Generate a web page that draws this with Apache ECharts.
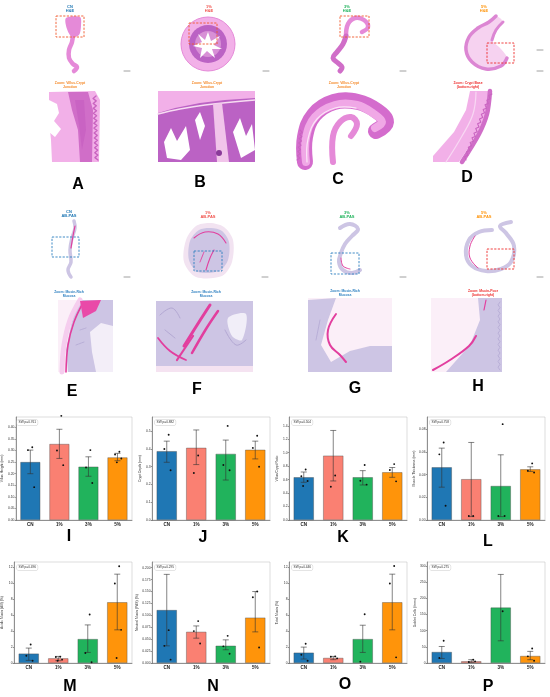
<!DOCTYPE html>
<html>
<head>
<meta charset="utf-8">
<script src="https://cdn.jsdelivr.net/npm/echarts@6/dist/echarts.min.js"></script>
<style>
html, body { margin: 0; padding: 0; background: #fff; }
#container { width: 550px; height: 697px; }
</style>
</head>
<body>
<div id="container"></div>
<script>
// groups and bar data
var groups = ['CN', '1%', '3%', '5%'];

var villusMean = [0.250, 0.328, 0.230, 0.270];
var villusErr = [[0.200, 0.302], [0.266, 0.392], [0.189, 0.273], [0.256, 0.288]];
var villusPts = [[0.314, 0.302, 0.142], [0.450, 0.300, 0.237], [0.302, 0.227, 0.160], [0.295, 0.283, 0.266, 0.249]];

var cryptMean = [0.387, 0.406, 0.372, 0.395];
var cryptErr = [[0.325, 0.444], [0.312, 0.507], [0.225, 0.450], [0.344, 0.444]];
var cryptPts = [[0.480, 0.400, 0.280], [0.363, 0.265], [0.530, 0.310, 0.280], [0.474, 0.406, 0.300]];

var ratioMean = [0.634, 0.955, 0.634, 0.708];
var ratioErr = [[0.560, 0.713], [0.580, 1.330], [0.520, 0.733], [0.634, 0.780]];
var ratioPts = [[0.750, 0.650, 0.580, 0.505], [0.660, 0.495], [0.817, 0.584, 0.525], [0.830, 0.743, 0.574]];

var muscleMean = [0.0465, 0.0360, 0.0300, 0.0447];
var muscleErr = [[0.0290, 0.0635], [0.0030, 0.0685], [0.0030, 0.0576], [0.0429, 0.0470]];
var musclePts = [[0.0685, 0.0580, 0.0126], [0.0035, 0.0035], [0.0847, 0.0035, 0.0035], [0.0500, 0.0435, 0.0420]];

var acidMean = [1.17, 0.58, 3.00, 7.63];
var acidErr = [[0.33, 1.875], [0.29, 0.83], [1.33, 4.79], [4.17, 11.17]];
var acidPts = [[2.33, 0.92, 0.29], [0.79, 0.75, 0.42, 0.29], [6.10, 1.25, 0.10], [12.17, 10.00, 4.17, 0.63]];

var neutralMean = [0.111, 0.0653, 0.0361, 0.0951];
var neutralErr = [[0.036, 0.186], [0.0521, 0.0778], [0.0278, 0.0486], [0.0653, 0.150]];
var neutralPts = [[0.069, 0.036, 0.007], [0.088, 0.067, 0.041], [0.057, 0.035, 0.0194], [0.150, 0.138, 0.0326]];

var totalMean = [1.29, 0.63, 3.00, 7.63];
var totalErr = [[0.50, 2.00], [0.42, 0.83], [1.33, 4.75], [4.17, 11.17]];
var totalPts = [[2.42, 1.04, 0.29], [0.83, 0.79, 0.58], [6.13, 0.17], [12.20, 10.00, 0.71]];

var gobletMean = [33.8, 5.1, 171, 21.5];
var gobletErr = [[14, 51], [2, 10.2], [68.6, 273.6], [10.2, 35.9]];
var gobletPts = [[68.6, 15.4], [10.2, 3.0, 5.0], [160], [45, 20.5, 7]];

var panelNames = ['Villus Height (mm)', 'Crypt Depth (mm)', 'Villus/Crypt Ratio', 'Muscle Thickness (mm)',
	'Acidic Mucin (AB) (%)', 'Neutral Mucin (PAS) (%)', 'Total Mucin (%)', 'Goblet Cells (/mm²)'];
var swLabels = ['SW p=0.761', 'SW p=0.882', 'SW p=0.504', 'SW p=0.758', 'SW p=0.496', 'SW p=0.295', 'SW p=0.446', 'SW p=0.275'];
var yMaxes = [0.445, 0.58, 1.53, 0.091, 12.7, 0.212, 12.7, 312];
var yIntervals = [0.05, 0.1, 0.2, 0.02, 2, 0.025, 2, 50];
var yDecimals = [2, 1, 1, 2, 0, 3, 0, 0];
var barLetters = ['I', 'J', 'K', 'L', 'M', 'N', 'O', 'P'];

var means = [villusMean, cryptMean, ratioMean, muscleMean, acidMean, neutralMean, totalMean, gobletMean];
var errs = [villusErr, cryptErr, ratioErr, muscleErr, acidErr, neutralErr, totalErr, gobletErr];
var pts = [villusPts, cryptPts, ratioPts, musclePts, acidPts, neutralPts, totalPts, gobletPts];

var groupColors = ['#1f77b4', '#fa8072', '#21b35c', '#ff940a'];
var font = 'Liberation Sans, Arial, sans-serif';

// ---------- drawing helpers for the histology panels ----------
function poly(points, fill, smooth) {
	return { type: 'polygon', silent: true, shape: { points: points, smooth: smooth || 0 }, style: { fill: fill } };
}
function line(points, color, width, smooth) {
	return { type: 'polyline', silent: true, shape: { points: points, smooth: smooth === undefined ? 0.4 : smooth },
		style: { stroke: color, lineWidth: width, fill: null, lineCap: 'round', lineJoin: 'round' } };
}
function rect(x, y, w, h, fill) {
	return { type: 'rect', silent: true, shape: { x: x, y: y, width: w, height: h }, style: { fill: fill } };
}
function box(x, y, w, h, color) {
	return { type: 'rect', silent: true, shape: { x: x, y: y, width: w, height: h },
		style: { fill: null, stroke: color, lineWidth: 0.9, lineDash: [2.2, 1.4] } };
}
function txt(x, y, text, color, size, weight) {
	return { type: 'text', silent: true, z: 20, style: { x: x, y: y, text: text, fill: color, fontSize: size,
		fontWeight: weight || 'bold', fontFamily: font, align: 'center', verticalAlign: 'middle', lineHeight: size * 1.1 } };
}
function fringe(x0, y0, x1, y1, amp, n) {
	var out = [];
	var dx = x1 - x0, dy = y1 - y0, len = Math.sqrt(dx * dx + dy * dy);
	var nx = -dy / len, ny = dx / len;
	for (var i = 0; i <= n; i++) {
		var t = i / n, o = (i % 2) ? amp : 0;
		out.push([x0 + dx * t + nx * o, y0 + dy * t + ny * o]);
	}
	return out;
}
function scaleBar(x, y) {
	return line([[x - 3, y], [x + 3, y]], '#888', 0.8, 0);
}

var pinkLight = '#f2b0e8', pink = '#e58ad8', pinkDark = '#d06ec8', purple = '#bb62c4';
var lav = '#cdc5e4', lavDark = '#b3a8d3', mag = '#e23e9e', palePink = '#fbeff8';
var cnBlue = '#1f77b4', redLbl = '#f0504a', greenLbl = '#21b35c', orangeLbl = '#ff940a';
var zoomOrange = '#f58a2a', zoomRed = '#ee2d2d', zoomBlue = '#2c7fc0';

var gfx = [];

// --- row 1: H&E overviews ---
gfx.push(txt(70, 9, 'CN\nH&E', cnBlue, 4));
gfx.push(txt(209, 9, '1%\nH&E', redLbl, 4));
gfx.push(txt(347, 9, '3%\nH&E', greenLbl, 4));
gfx.push(txt(484, 9, '5%\nH&E', orangeLbl, 4));

// A overview
gfx.push(poly([[66, 18], [80, 17], [81, 26], [79, 35], [72, 37], [67, 29]], pink, 0.3));
gfx.push(line([[73, 34], [72, 42], [69, 50], [69, 58], [73, 64], [77, 67], [74, 71]], pink, 4.5));
gfx.push(box(56, 16, 28, 21, '#f0582a'));
gfx.push(scaleBar(127, 71));

// B overview
gfx.push({ type: 'circle', silent: true, shape: { cx: 208, cy: 44, r: 27 }, style: { fill: pinkLight, stroke: pink, lineWidth: 1 } });
gfx.push({ type: 'circle', silent: true, shape: { cx: 208, cy: 44, r: 19 }, style: { fill: purple } });
gfx.push({ type: 'circle', silent: true, shape: { cx: 208, cy: 44, r: 13 }, style: { fill: '#d890d6' } });
gfx.push(poly([[208, 32], [211, 41], [220, 36], [214, 45], [222, 49], [212, 49], [215, 58], [207, 51], [200, 58], [202, 48], [193, 46], [202, 42], [198, 34], [205, 40]], '#fff'));
gfx.push(box(189, 23, 28, 21, '#f0582a'));
gfx.push(scaleBar(266, 71));

// C overview
gfx.push(line([[346, 36], [348, 24], [355, 18], [364, 20], [368, 27], [362, 32]], pink, 4.5));
gfx.push(line([[346, 36], [343, 44], [337, 52], [333, 58], [338, 63], [342, 67], [340, 71]], pinkDark, 5));
gfx.push(box(340, 16, 29, 21, '#f0582a'));
gfx.push(scaleBar(403, 71));

// D overview
gfx.push(poly([[489, 22], [478, 28], [469, 37], [466, 50], [472, 62], [486, 69], [501, 66], [507, 58], [500, 48], [492, 40], [496, 30], [503, 22], [496, 16]], '#f6d2f0', 0.3));
gfx.push(line([[496, 16], [489, 22], [478, 28], [469, 37], [466, 50], [472, 62], [486, 69], [501, 66], [507, 58]], '#dc86d3', 3.5));
gfx.push(line([[492, 40], [496, 30], [503, 22]], '#dc86d3', 3));
gfx.push(box(487, 43, 27, 20, zoomRed));
gfx.push(scaleBar(540, 50));
gfx.push(scaleBar(540, 71));

// --- row 1: H&E zooms ---
gfx.push(txt(70, 85, 'Zoom: Villus-Crypt\nJunction', zoomOrange, 3.4));
gfx.push(txt(207, 85, 'Zoom: Villus-Crypt\nJunction', zoomOrange, 3.4));
gfx.push(txt(344, 85, 'Zoom: Villus-Crypt\nJunction', zoomOrange, 3.4));
gfx.push(txt(468, 85, 'Zoom: Crypt Base\n(bottom-right)', zoomRed, 3.4));

// A zoom
gfx.push(poly([[49, 92], [95, 91], [100, 100], [99, 162], [52, 162], [51, 140], [49, 120]], pinkLight));
gfx.push(poly([[49, 100], [57, 104], [59, 113], [54, 121], [61, 129], [55, 137], [49, 132]], '#fff'));
gfx.push(poly([[68, 92], [88, 92], [93, 110], [92, 162], [80, 162], [78, 130], [72, 110]], pinkDark));
gfx.push(poly([[75, 100], [84, 100], [86, 130], [82, 150], [79, 125]], '#c963c3'));
gfx.push(line(fringe(96, 96, 98, 160, 3, 26), '#c964c0', 1.4, 0));

// B zoom
gfx.push(rect(158, 91, 97, 71, purple));
gfx.push(poly([[158, 91], [255, 91], [255, 98], [225, 100], [200, 103], [175, 108], [158, 113]], pinkLight));
gfx.push(line([[158, 114], [180, 109], [205, 105], [255, 100]], '#f7dcf2', 1.4));
gfx.push(poly([[213, 104], [222, 103], [229, 162], [217, 162]], '#f1c4ea'));
gfx.push(poly([[164, 142], [171, 128], [177, 141], [186, 126], [190, 150], [181, 160], [167, 158]], '#fff'));
gfx.push(poly([[233, 132], [240, 118], [246, 136], [252, 124], [255, 150], [241, 158]], '#fff'));
gfx.push(poly([[195, 120], [200, 112], [205, 126], [200, 140]], '#fff'));
gfx.push({ type: 'circle', silent: true, shape: { cx: 219, cy: 153, r: 3 }, style: { fill: '#8a3a99' } });

// C zoom
gfx.push(line([[305, 162], [305, 137], [314, 115], [334, 102], [358, 102], [377, 111], [386, 122], [376, 131]], '#d46ccd', 16));
gfx.push(line([[306, 162], [306, 138], [315, 117], [335, 105], [357, 105], [374, 114], [382, 122], [375, 128]], '#f0a8e6', 8));
gfx.push(line([[307, 162], [308, 139], [317, 119], [335, 108], [356, 108]], '#fbe6f7', 1.2));
gfx.push(line([[333, 162], [333, 136], [340, 122], [351, 117], [357, 124], [351, 136]], pink, 6));
gfx.push(line(fringe(297, 160, 300, 130, 2.5, 14), '#c964c0', 1.1, 0));

// D zoom
gfx.push(poly([[470, 91], [490, 91], [486, 118], [472, 142], [459, 162], [433, 162], [433, 156], [454, 132], [466, 110]], pinkLight));
gfx.push(line([[490, 91], [487, 114], [479, 134], [462, 162]], pinkDark, 4.5, 0.3));
gfx.push(line(fringe(492, 94, 466, 160, 2.5, 28), '#c964c0', 1.1, 0));
gfx.push(line([[476, 92], [473, 114], [462, 136], [446, 162]], '#f8d8f3', 1.2));

// letters A-D
gfx.push(txt(78, 185, 'A', '#000', 16));
gfx.push(txt(200, 183, 'B', '#000', 16));
gfx.push(txt(338, 180, 'C', '#000', 16));
gfx.push(txt(467, 178, 'D', '#000', 16));

// --- row 2: AB-PAS overviews ---
gfx.push(txt(69, 214, 'CN\nAB-PAS', cnBlue, 4));
gfx.push(txt(208, 215, '1%\nAB-PAS', redLbl, 4));
gfx.push(txt(347, 215, '3%\nAB-PAS', greenLbl, 4));
gfx.push(txt(484, 215, '5%\nAB-PAS', orangeLbl, 4));

// E overview
gfx.push(line([[74, 221], [75, 228], [72, 238], [70, 250], [71, 262], [68, 270], [71, 277]], lav, 3.5));
gfx.push(line([[75, 226], [73, 236], [71, 248]], mag, 1.2));
gfx.push(box(52, 237, 27, 20, zoomBlue));
gfx.push(scaleBar(127, 277));

// F overview
gfx.push(poly([[186, 240], [196, 226], [210, 223], [224, 227], [233, 240], [232, 262], [222, 276], [196, 277], [184, 262]], '#f2e3f1', 0.3));
gfx.push(poly([[190, 241], [199, 230], [211, 228], [222, 231], [229, 242], [228, 260], [219, 271], [198, 272], [189, 260]], lav, 0.3));
gfx.push(line([[194, 238], [205, 232], [218, 234], [226, 243]], mag, 1.1));
gfx.push(line([[206, 270], [210, 258], [214, 250]], mag, 1.1));
gfx.push(line([[200, 262], [204, 252]], mag, 0.9));
gfx.push(box(194, 251, 28, 20, zoomBlue));
gfx.push(scaleBar(265, 277));

// G overview
gfx.push(line([[340, 228], [350, 224], [358, 229], [352, 236], [345, 244], [341, 253], [339, 262], [343, 270], [352, 273], [360, 270]], lav, 4));
gfx.push(line([[341, 258], [343, 266], [350, 269]], mag, 1));
gfx.push(box(331, 253, 28, 21, zoomBlue));
gfx.push(scaleBar(403, 277));

// H overview
gfx.push(line([[492, 230], [479, 232], [469, 240], [466, 255], [472, 266], [486, 271], [501, 269], [511, 262], [514, 246], [506, 233], [500, 226], [511, 222]], lav, 4));
gfx.push(line([[475, 236], [470, 246], [470, 258], [478, 268]], mag, 1));
gfx.push(box(487, 249, 27, 20, zoomRed));
gfx.push(scaleBar(540, 277));

// --- row 2: AB-PAS zooms ---
gfx.push(txt(69, 294, 'Zoom: Mucin-Rich\nMucosa', zoomBlue, 3.4));
gfx.push(txt(206, 294, 'Zoom: Mucin-Rich\nMucosa', zoomBlue, 3.4));
gfx.push(txt(345, 293, 'Zoom: Mucin-Rich\nMucosa', zoomBlue, 3.4));
gfx.push(txt(483, 293, 'Zoom: Mucin-Poor\n(bottom-right)', zoomRed, 3.4));

// E zoom
gfx.push(rect(58, 300, 55, 72, palePink));
gfx.push(poly([[78, 300], [113, 300], [113, 372], [68, 372], [66, 350], [71, 325]], lav));
gfx.push(poly([[90, 332], [101, 323], [113, 326], [113, 372], [96, 372], [92, 352]], '#f3eef8'));
gfx.push(line([[80, 300], [70, 320], [64, 345], [62, 372]], '#f5cdee', 5));
gfx.push(line([[83, 303], [74, 322], [68, 345], [66, 372]], mag, 1.6));
gfx.push(poly([[80, 301], [101, 300], [96, 311], [83, 318]], '#e94aa8'));
gfx.push(line([[80, 330], [86, 328]], lavDark, 0.8));
gfx.push(line([[76, 345], [84, 342]], lavDark, 0.8));

// F zoom
gfx.push(rect(156, 301, 97, 71, lav));
gfx.push(line([[160, 315], [172, 308], [180, 318]], lavDark, 1));
gfx.push(line([[225, 330], [236, 345], [246, 340]], lavDark, 1));
gfx.push(line([[165, 330], [175, 338]], lavDark, 1));
gfx.push(poly([[228, 318], [246, 314], [242, 340], [232, 336]], '#f1eef8', 0.3));
gfx.push(line([[184, 346], [199, 322], [210, 305]], mag, 3));
gfx.push(line([[192, 353], [206, 329], [218, 311]], mag, 2.5));
gfx.push(line([[177, 360], [193, 336]], mag, 2.2));
gfx.push(line([[158, 338], [170, 351], [186, 360]], mag, 1.8));
gfx.push(rect(156, 366, 97, 6, '#f5e3f1'));

// G zoom
gfx.push(rect(308, 298, 84, 74, palePink));
gfx.push(poly([[308, 300], [336, 298], [328, 320], [321, 345], [331, 362], [350, 351], [370, 346], [392, 346], [392, 372], [308, 372]], lav));
gfx.push(line([[336, 314], [328, 330], [330, 345], [340, 355], [346, 362]], mag, 2));
gfx.push(line([[320, 320], [316, 340]], lavDark, 0.8));

// H zoom
gfx.push(rect(431, 298, 71, 74, palePink));
gfx.push(poly([[478, 298], [502, 298], [502, 372], [446, 372], [470, 345], [480, 320]], lav));
gfx.push(line([[433, 370], [450, 360], [469, 346], [476, 336]], mag, 2));
gfx.push(line([[486, 300], [484, 310]], mag, 1.2));
gfx.push(line(fringe(500, 302, 500, 370, 2, 24), lavDark, 0.8, 0));

// letters E-H
gfx.push(txt(72, 392, 'E', '#000', 16));
gfx.push(txt(197, 390, 'F', '#000', 16));
gfx.push(txt(355, 389, 'G', '#000', 16));
gfx.push(txt(478, 387, 'H', '#000', 16));

// ---------- bar charts I-P ----------
var gridLefts = [14, 152, 289, 427];
var gridTops = [417, 562];
var gridHeights = [103, 101];
var letterPos = [[69, 537], [203, 538], [343, 538], [488, 542], [70, 687], [213, 687], [345, 685], [488, 687]];

var grids = [], xAxes = [], yAxes = [], series = [];

function errorBar(params, api) {
	var c = api.value(0);
	var lo = api.coord([c, api.value(1)]);
	var hi = api.coord([c, api.value(2)]);
	var cap = 3;
	var st = { stroke: '#333', lineWidth: 0.6 };
	return { type: 'group', children: [
		{ type: 'line', shape: { x1: hi[0], y1: hi[1], x2: lo[0], y2: lo[1] }, style: st },
		{ type: 'line', shape: { x1: hi[0] - cap, y1: hi[1], x2: hi[0] + cap, y2: hi[1] }, style: st },
		{ type: 'line', shape: { x1: lo[0] - cap, y1: lo[1], x2: lo[0] + cap, y2: lo[1] }, style: st }
	] };
}
var jitter = [1.2, -1.5, 2.4, -0.4, 0.6];
function dotItem(params, api) {
	var p = api.coord([api.value(0), api.value(1)]);
	var k = api.value(2);
	return { type: 'circle', shape: { cx: p[0] + jitter[k % jitter.length] * 1.6, cy: p[1], r: 0.95 }, style: { fill: '#111' } };
}

for (var i = 0; i < 8; i++) {
	var row = i < 4 ? 0 : 1;
	var col = i % 4;
	grids.push({ left: gridLefts[col], top: gridTops[row], width: 118, height: gridHeights[row],
		show: true, borderColor: '#b8b8b8', borderWidth: 0.5, backgroundColor: '#fff' });
	xAxes.push({ type: 'category', gridIndex: i, data: groups,
		axisLine: { lineStyle: { color: '#333', width: 0.5 } },
		axisTick: { length: 1.5, alignWithLabel: true, lineStyle: { width: 0.5 } },
		axisLabel: { fontSize: 4.6, fontWeight: 'bold', color: '#222', margin: 2.5, fontFamily: font } });
	(function (dec) {
		yAxes.push({ type: 'value', gridIndex: i, min: 0, max: yMaxes[i], interval: yIntervals[i],
			name: panelNames[i], nameLocation: 'middle', nameGap: 10, nameRotate: 90,
			nameTextStyle: { fontSize: 3.4, color: '#333', fontFamily: font },
			axisLine: { show: true, lineStyle: { color: '#333', width: 0.5 } },
			axisTick: { show: true, length: 1.2, lineStyle: { width: 0.5 } },
			splitLine: { show: false },
			axisLabel: { fontSize: 3.3, color: '#333', margin: 1.5, showMaxLabel: false, fontFamily: font,
				formatter: function (v) { return v.toFixed(dec); } } });
	})(yDecimals[i]);

	series.push({ type: 'bar', xAxisIndex: i, yAxisIndex: i, barWidth: '68%',
		data: means[i].map(function (v, j) {
			return { value: v, itemStyle: { color: groupColors[j], borderColor: '#4a4a4a', borderWidth: 0.4 } };
		}) });
	series.push({ type: 'custom', xAxisIndex: i, yAxisIndex: i, renderItem: errorBar, z: 3,
		data: errs[i].map(function (e, j) { return [j, e[0], e[1]]; }) });
	var dd = [];
	pts[i].forEach(function (arr, j) { arr.forEach(function (v, k) { dd.push([j, v, k]); }); });
	series.push({ type: 'custom', xAxisIndex: i, yAxisIndex: i, renderItem: dotItem, z: 4, data: dd });

	// Shapiro-Wilk label box
	gfx.push({ type: 'text', silent: true, z: 10, style: { x: gridLefts[col] + 3, y: gridTops[row] + 3,
		text: swLabels[i], fontSize: 3.2, fill: '#333', fontFamily: font,
		backgroundColor: '#fff', borderColor: '#bbb', borderWidth: 0.4, borderRadius: 1, padding: [1, 1.5] } });
	gfx.push(txt(letterPos[i][0], letterPos[i][1], barLetters[i], '#000', 16));
}

var dom = document.getElementById('container');
var myChart = echarts.init(dom, null, { renderer: 'canvas' });
var option = {
	animation: false,
	backgroundColor: '#fff',
	grid: grids,
	xAxis: xAxes,
	yAxis: yAxes,
	series: series,
	graphic: { elements: gfx }
};
myChart.setOption(option, true);
</script>
</body>
</html>
